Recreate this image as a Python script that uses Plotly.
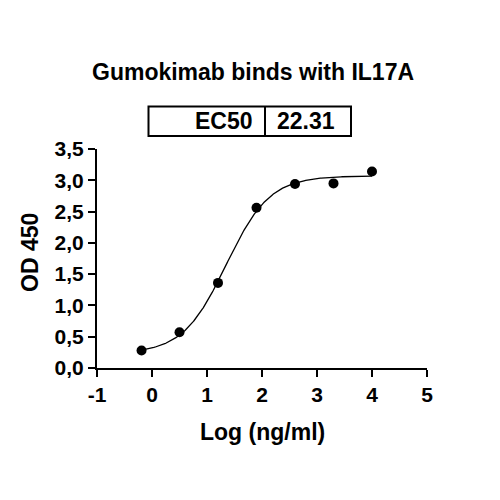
import numpy as np
import plotly.graph_objects as go

# Data
log_conc = [-0.19, 0.50, 1.20, 1.90, 2.60, 3.30, 4.00]
od450 = [0.28, 0.57, 1.36, 2.56, 2.94, 2.95, 3.14]

# 4PL fit parameters (EC50 from the label)
ec50 = 22.31
fit_bottom = 0.23
fit_top = 3.07
fit_hill = 1.1

x_ticks = [-1, 0, 1, 2, 3, 4, 5]
y_ticks = [0, 0.5, 1.0, 1.5, 2.0, 2.5, 3.0, 3.5]

title_text = "Gumokimab binds with IL17A"
x_title = "Log (ng/ml)"
y_title = "OD 450"

FONT = "Liberation Sans, Arial, sans-serif"

L, R, T, B = 97, 73, 149, 132
PW = 500 - L - R
PH = 500 - T - B


def px(xp):
    return (xp - L) / PW


def py(yp):
    return (500 - B - yp) / PH


xc = np.linspace(min(log_conc), max(log_conc), 300)
yc = fit_bottom + (fit_top - fit_bottom) / (1 + 10 ** ((np.log10(ec50) - xc) * fit_hill))

fig = go.Figure()
fig.add_trace(go.Scatter(x=xc, y=yc, mode="lines", cliponaxis=False,
                         line=dict(color="black", width=1.3), hoverinfo="skip"))
fig.add_trace(go.Scatter(x=log_conc, y=od450, mode="markers", cliponaxis=False,
                         marker=dict(color="black", size=10)))

axis_common = dict(showline=True, linecolor="black", linewidth=2.2, ticks="outside",
                   tickwidth=2.2, ticklen=7, tickcolor="black", showgrid=False,
                   zeroline=False, tickfont=dict(family=FONT, size=21, color="black"))

fig.update_layout(
    width=500, height=500,
    margin=dict(l=L, r=R, t=T, b=B),
    plot_bgcolor="white", paper_bgcolor="white",
    showlegend=False,
    separators=",.",
    font=dict(family=FONT, color="black"),
    xaxis=dict(range=[-1, 5], tickvals=x_ticks,
               ticktext=["<b>%d</b>" % v for v in x_ticks], **axis_common),
    yaxis=dict(range=[0, 3.5], tickvals=y_ticks,
               ticktext=["<b>%s</b>" % ("%.1f" % v).replace(".", ",") for v in y_ticks],
               **axis_common),
)

# Title and axis titles
fig.add_annotation(text="<b>%s</b>" % title_text, xref="paper", yref="paper",
                   x=px(253), y=py(72), showarrow=False,
                   font=dict(family=FONT, size=23, color="black"),
                   xanchor="center", yanchor="middle")
fig.add_annotation(text="<b>%s</b>" % x_title, xref="paper", yref="paper",
                   x=px(262), y=py(432), showarrow=False,
                   font=dict(family=FONT, size=23, color="black"),
                   xanchor="center", yanchor="middle")
fig.add_annotation(text="<b>%s</b>" % y_title, xref="paper", yref="paper",
                   x=px(30), y=py(253), showarrow=False,
                   textangle=-90,
                   font=dict(family=FONT, size=23, color="black"),
                   xanchor="center", yanchor="middle")

# EC50 table box
bx0, bx1, bdiv = px(148.5), px(351), px(265)
by0, by1 = py(136), py(106.5)
fig.add_shape(type="rect", xref="paper", yref="paper", x0=bx0, x1=bx1, y0=by0, y1=by1,
              line=dict(color="black", width=2))
fig.add_shape(type="line", xref="paper", yref="paper", x0=bdiv, x1=bdiv, y0=by0, y1=by1,
              line=dict(color="black", width=2))
fig.add_annotation(text="<b>EC50</b>", xref="paper", yref="paper",
                   x=px(255), y=(by0 + by1) / 2, showarrow=False,
                   xanchor="right", yanchor="middle",
                   font=dict(family=FONT, size=23, color="black"))
fig.add_annotation(text="<b>%.2f</b>" % ec50, xref="paper", yref="paper",
                   x=px(275), y=(by0 + by1) / 2, showarrow=False,
                   xanchor="left", yanchor="middle",
                   font=dict(family=FONT, size=23, color="black"))

fig.write_html("out.html", config={"displayModeBar": False},
               post_script="document.body.style.margin='0';")
